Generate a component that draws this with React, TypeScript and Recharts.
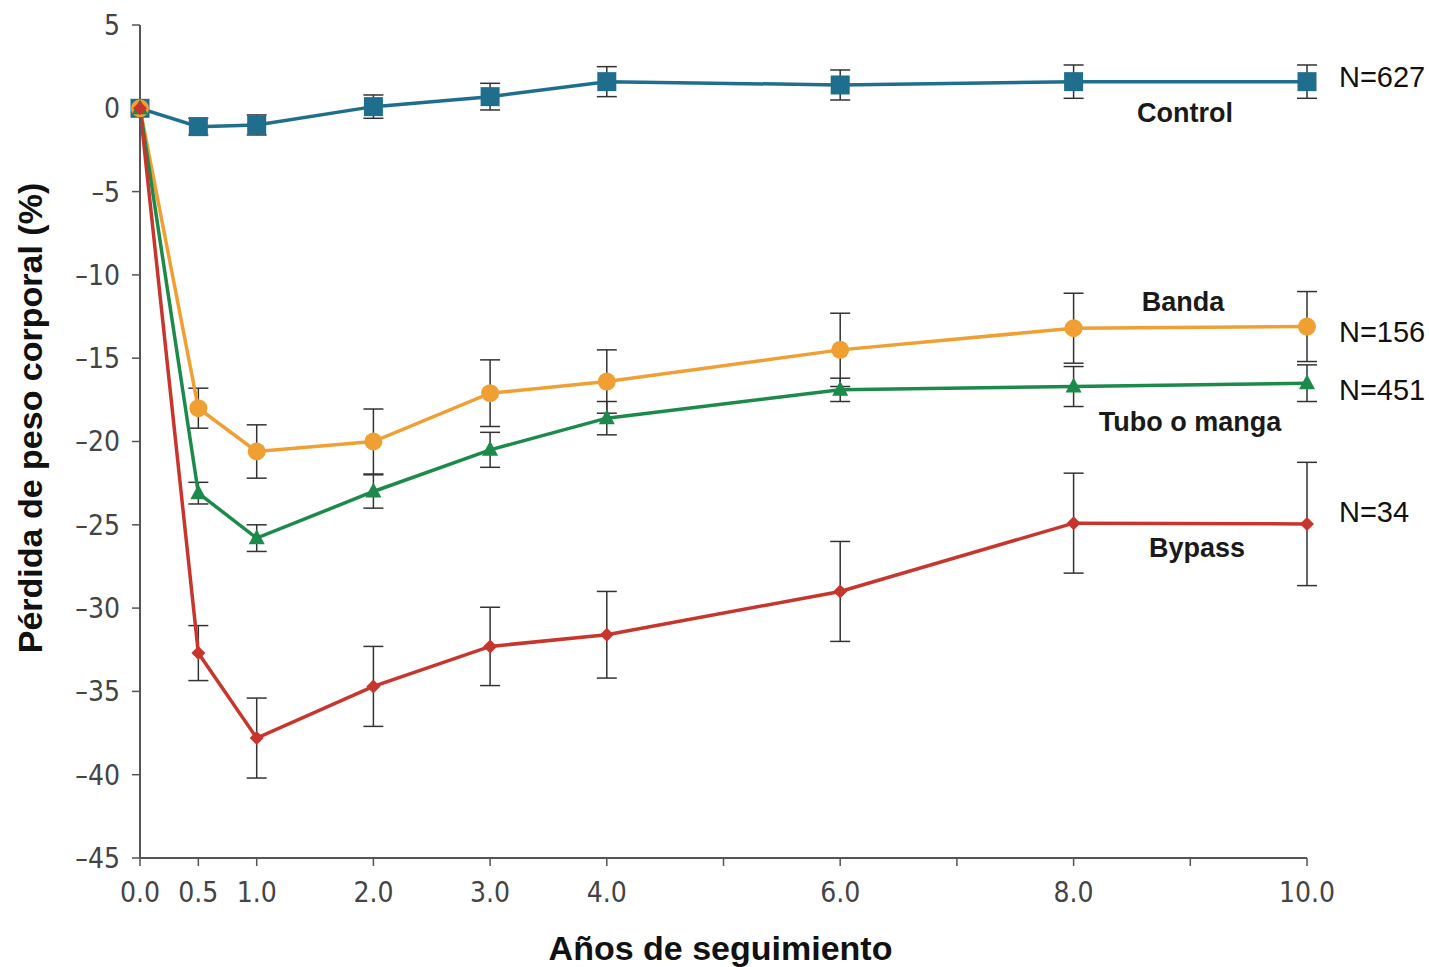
import React from 'react';
import { LineChart, Line, XAxis, YAxis, ErrorBar, ReferenceDot } from 'recharts';

const years = [0, 0.5, 1, 2, 3, 4, 6, 8, 10];
const control = [0, -1.1, -1.0, 0.1, 0.7, 1.6, 1.4, 1.6, 1.6];
const controlErr = [0, 0.5, 0.6, 0.7, 0.8, 0.9, 0.9, 1.0, 1.0];
const banda = [0, -18.0, -20.6, -20.0, -17.1, -16.4, -14.5, -13.2, -13.1];
const bandaErr = [0, 1.2, 1.6, 1.95, 2.0, 1.9, 2.2, 2.1, 2.1];
const tubo = [0, -23.1, -25.8, -23.0, -20.5, -18.6, -16.9, -16.7, -16.5];
const tuboErr = [0, 0.65, 0.8, 1.0, 1.05, 1.0, 0.7, 1.2, 1.1];
const bypass = [0, -32.7, -37.8, -34.7, -32.3, -31.6, -29.0, -24.9, -24.95];
const bypassErr = [0, 1.65, 2.4, 2.4, 2.35, 2.6, 3.0, 3.0, 3.7];

const xTicks = [0, 0.5, 1, 2, 3, 4, 5, 6, 7, 8, 9, 10];
const xTickLabels = ['0.0', '0.5', '1.0', '2.0', '3.0', '4.0', '', '6.0', '', '8.0', '', '10.0'];
const yTicks = [5, 0, -5, -10, -15, -20, -25, -30, -35, -40, -45];

const groupLabels = [
  { text: 'Control', x: 8.955, y: -0.82 },
  { text: 'Banda', x: 8.937, y: -12.17 },
  { text: 'Tubo o manga', x: 8.997, y: -19.37 },
  { text: 'Bypass', x: 9.057, y: -26.93 },
];
const nLabels = [
  { text: 'N=627', x: 10.274, y: 1.28 },
  { text: 'N=156', x: 10.274, y: -14.03 },
  { text: 'N=451', x: 10.274, y: -17.5 },
  { text: 'N=34', x: 10.274, y: -24.83 },
];

const data = years.map((yr, i) => ({
  year: yr,
  control: control[i],
  controlErr: controlErr[i],
  banda: banda[i],
  bandaErr: bandaErr[i],
  tubo: tubo[i],
  tuboErr: tuboErr[i],
  bypass: bypass[i],
  bypassErr: bypassErr[i],
}));

const C_CONTROL = '#1f6e8e';
const C_BANDA = '#f0a033';
const C_TUBO = '#1b8a4b';
const C_BYPASS = '#c8352c';

const tickFont = "'DejaVu Sans Condensed', 'DejaVu Sans', sans-serif";
const boldFont = "'Liberation Sans', Arial, sans-serif";

const SquareDot = (p: any) => {
  const { cx, cy, index } = p;
  if (cx == null || cy == null) return <g key={`s${index}`} />;
  return <rect key={`s${index}`} x={cx - 9.5} y={cy - 9.5} width={19} height={19} fill={C_CONTROL} />;
};
const CircleDot = (p: any) => {
  const { cx, cy, index } = p;
  if (cx == null || cy == null) return <g key={`c${index}`} />;
  return <circle key={`c${index}`} cx={cx} cy={cy} r={9} fill={C_BANDA} />;
};
const TriangleDot = (p: any) => {
  const { cx, cy, index } = p;
  if (cx == null || cy == null) return <g key={`t${index}`} />;
  return (
    <polygon
      key={`t${index}`}
      points={`${cx},${cy - 9} ${cx + 8},${cy + 6} ${cx - 8},${cy + 6}`}
      fill={C_TUBO}
    />
  );
};
const DiamondDot = (p: any) => {
  const { cx, cy, index } = p;
  if (cx == null || cy == null) return <g key={`d${index}`} />;
  return (
    <polygon
      key={`d${index}`}
      points={`${cx},${cy - 7} ${cx + 7},${cy} ${cx},${cy + 7} ${cx - 7},${cy}`}
      fill={C_BYPASS}
    />
  );
};

const TextLabel = (props: any) => {
  const { viewBox, text, bold, anchor } = props;
  if (!viewBox) return null;
  const x = viewBox.x + (viewBox.width || 0) / 2;
  const y = viewBox.y + (viewBox.height || 0) / 2;
  return (
    <text
      x={x}
      y={y}
      textAnchor={anchor}
      fontFamily={boldFont}
      fontWeight={bold ? 'bold' : 'normal'}
      fontSize={bold ? 27 : 29}
      fill={bold ? '#1a1a1a' : '#111'}
    >
      {text}
    </text>
  );
};

const YTitle = (props: any) => {
  const { viewBox } = props;
  if (!viewBox) return null;
  const x = viewBox.x + 42;
  const y = viewBox.y + 393;
  return (
    <text
      x={x}
      y={y}
      transform={`rotate(-90, ${x}, ${y})`}
      textAnchor="middle"
      fontFamily={boldFont}
      fontWeight="bold"
      fontSize={34}
      fill="#111"
    >
      Pérdida de peso corporal (%)
    </text>
  );
};

const XTitle = (props: any) => {
  const { viewBox } = props;
  if (!viewBox) return null;
  const x = viewBox.x + viewBox.width / 2 - 3;
  const y = viewBox.y + 102;
  return (
    <text x={x} y={y} textAnchor="middle" fontFamily={boldFont} fontWeight="bold" fontSize={34} fill="#111">
      Años de seguimiento
    </text>
  );
};

export default function App() {
  return (
    <div style={{ position: 'absolute', left: 0, top: 0, width: 1429, height: 967, background: '#fff' }}>
      <LineChart width={1429} height={967} data={data} margin={{ top: 25, right: 122, bottom: 0, left: 0 }}>
        <XAxis
          dataKey="year"
          type="number"
          domain={[0, 10]}
          ticks={xTicks}
          tickFormatter={(v: number) => xTickLabels[xTicks.indexOf(v)] ?? ''}
          height={109}
          tickSize={8}
          tickMargin={16}
          axisLine={{ stroke: '#555', strokeWidth: 2 }}
          tickLine={{ stroke: '#555', strokeWidth: 1.5 }}
          tick={{ fill: '#444', fontSize: 28, fontFamily: tickFont }}
          interval={0}
          label={<XTitle />}
        />
        <YAxis
          type="number"
          domain={[-45, 5]}
          ticks={yTicks}
          tickFormatter={(v: number) => (v < 0 ? '–' + Math.abs(v) : String(v))}
          width={140}
          tickSize={8}
          tickMargin={12}
          axisLine={{ stroke: '#555', strokeWidth: 2 }}
          tickLine={{ stroke: '#555', strokeWidth: 1.5 }}
          tick={{ fill: '#444', fontSize: 28, fontFamily: tickFont }}
          interval={0}
          label={<YTitle />}
        />
        <Line dataKey="control" stroke={C_CONTROL} strokeWidth={3.5} dot={SquareDot} isAnimationActive={false}>
          <ErrorBar dataKey="controlErr" direction="y" width={10} stroke="#333" strokeWidth={1.5} />
        </Line>
        <Line dataKey="banda" stroke={C_BANDA} strokeWidth={3.5} dot={CircleDot} isAnimationActive={false}>
          <ErrorBar dataKey="bandaErr" direction="y" width={10} stroke="#333" strokeWidth={1.5} />
        </Line>
        <Line dataKey="tubo" stroke={C_TUBO} strokeWidth={3.5} dot={TriangleDot} isAnimationActive={false}>
          <ErrorBar dataKey="tuboErr" direction="y" width={10} stroke="#333" strokeWidth={1.5} />
        </Line>
        <Line dataKey="bypass" stroke={C_BYPASS} strokeWidth={3.5} dot={DiamondDot} isAnimationActive={false}>
          <ErrorBar dataKey="bypassErr" direction="y" width={10} stroke="#333" strokeWidth={1.5} />
        </Line>
        {groupLabels.map((g) => (
          <ReferenceDot
            key={g.text}
            x={g.x}
            y={g.y}
            r={1}
            fill="none"
            stroke="none"
            ifOverflow="visible"
            label={<TextLabel text={g.text} bold anchor="middle" />}
          />
        ))}
        {nLabels.map((g) => (
          <ReferenceDot
            key={g.text}
            x={g.x}
            y={g.y}
            r={1}
            fill="none"
            stroke="none"
            ifOverflow="visible"
            label={<TextLabel text={g.text} bold={false} anchor="start" />}
          />
        ))}
      </LineChart>
    </div>
  );
}
